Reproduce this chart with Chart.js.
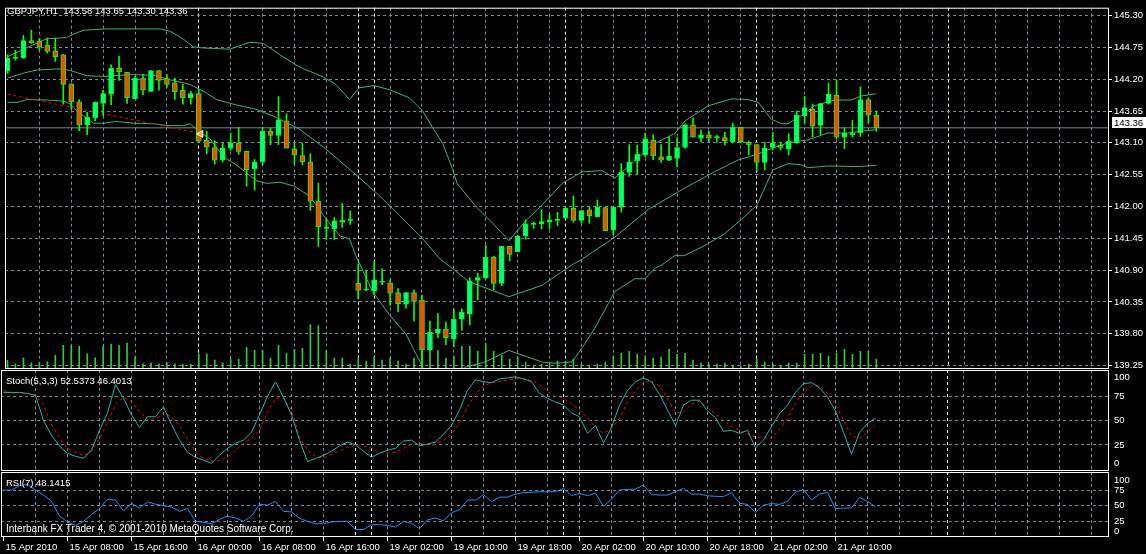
<!DOCTYPE html>
<html><head><meta charset="utf-8">
<script src="https://cdn.jsdelivr.net/npm/chart.js@4.4.1/dist/chart.umd.min.js"></script>
<style>
html,body{margin:0;padding:0;background:#000;overflow:hidden;}
#wrap{position:relative;width:1146px;height:554px;background:#000;}
#wrap canvas{position:absolute;left:0;top:0;}
.t{position:absolute;color:#fff;font:9.5px "Liberation Sans";white-space:pre;line-height:11px;}
#pbox{position:absolute;left:1112px;top:117px;width:34px;height:11px;background:#fff;color:#000;font:9.5px "Liberation Sans";line-height:11px;padding-left:2px;box-sizing:border-box;}
</style></head><body>
<div id="wrap">
<canvas id="cMain" width="1146" height="554"></canvas>
<canvas id="cSto" width="1146" height="554"></canvas>
<canvas id="cRsi" width="1146" height="554"></canvas>
<div class="t" style="left:7px;top:5px">GBPJPY,H1  143.58 143.65 143.30 143.36</div>
<div class="t" style="left:6px;top:375px">Stoch(5,3,3) 52.5373 46.4013</div>
<div class="t" style="left:6px;top:477px">RSI(7) 48.1415</div>
<div class="t" style="left:6px;top:523px;font-size:10px">Interbank FX Trader 4, © 2001-2010 MetaQuotes Software Corp.</div>
<div id="pbox">143.36</div>
</div>
<script>
// ---------- DATA ----------
const open = [
144.35,144.56,144.57,144.87,144.86,144.79,144.69,144.62,144.12,143.81,
143.41,143.53,143.78,143.94,144.39,144.32,143.86,144.22,143.99,144.35,
144.21,144.14,144.01,143.88,143.95,143.15,143.02,142.80,143.01,143.10,
142.96,142.65,142.77,143.30,143.23,143.48,142.99,142.88,142.77,142.09,
141.62,141.61,141.73,141.76,140.67,140.56,140.54,140.69,140.68,140.51,
140.31,140.51,140.38,139.52,139.82,139.88,139.71,140.05,140.14,140.72,
140.76,141.12,140.67,141.31,141.22,141.49,141.69,141.70,141.73,141.76,
141.80,141.97,141.76,141.94,141.82,141.98,141.59,141.99,142.59,142.79,
142.89,143.15,142.86,142.80,142.83,143.02,143.41,143.18,143.24,143.19,
143.19,143.12,143.37,143.11,143.07,142.76,143.02,143.06,142.99,143.10,
143.57,143.69,143.40,143.78,143.92,143.20,143.24,143.27,143.85,143.58];
const high = [
144.62,144.70,144.96,145.05,144.90,144.91,144.91,144.63,144.12,143.85,
143.63,143.81,144.01,144.45,144.60,144.32,144.25,144.28,144.35,144.35,
144.28,144.22,144.11,143.99,144.02,143.30,143.14,143.09,143.27,143.37,
142.96,142.81,143.37,143.36,143.90,143.60,143.09,143.09,142.91,142.40,
141.79,141.81,142.05,141.92,141.01,140.90,141.05,140.92,140.73,140.58,
140.51,140.56,140.47,140.02,140.15,140.00,140.22,140.23,140.77,140.85,
141.33,141.14,141.31,141.31,141.50,141.77,141.73,141.94,141.86,141.90,
141.98,142.18,141.93,141.99,142.11,141.99,142.00,142.74,143.07,143.06,
143.27,143.24,143.07,143.20,143.19,143.43,143.53,143.32,143.30,143.23,
143.28,143.44,143.37,143.13,143.07,143.11,143.28,143.11,143.26,143.65,
143.90,143.77,143.78,144.13,144.19,143.36,143.49,144.07,143.88,143.65];
const low = [
144.30,144.53,144.56,144.82,144.70,144.65,144.51,143.77,143.68,143.31,
143.24,143.48,143.57,143.76,144.18,143.78,143.86,143.93,143.99,144.01,
144.06,143.85,143.77,143.77,143.11,142.91,142.73,142.77,142.97,142.90,
142.35,142.28,142.72,143.07,143.07,143.01,142.73,142.72,141.93,141.31,
141.43,141.43,141.64,141.69,140.40,140.54,140.47,140.65,140.29,140.18,
140.24,140.02,139.22,139.51,139.73,139.61,139.57,139.86,139.95,140.39,
140.75,140.56,140.63,141.06,141.22,141.43,141.62,141.61,141.61,141.67,
141.79,141.73,141.71,141.71,141.82,141.58,141.51,141.90,142.52,142.56,
142.86,142.81,142.76,142.79,142.69,143.01,143.20,143.12,143.12,143.11,
143.06,143.10,143.10,142.89,142.61,142.63,142.98,142.98,142.89,143.09,
143.44,143.20,143.24,143.77,143.17,143.00,143.20,143.21,143.44,143.30];
const close = [
144.56,144.58,144.87,144.83,144.76,144.68,144.59,144.11,143.81,143.41,
143.54,143.80,143.95,144.39,144.33,143.88,144.22,144.01,144.35,144.18,
144.11,143.98,143.88,143.95,143.13,143.03,142.80,143.01,143.10,142.95,
142.63,142.77,143.30,143.23,143.50,143.01,142.89,142.77,142.09,141.65,
141.65,141.75,141.76,141.76,140.55,140.56,140.73,140.71,140.50,140.32,
140.51,140.36,139.52,139.83,139.88,139.73,140.05,140.17,140.71,140.77,
141.12,140.67,141.31,141.17,141.49,141.70,141.70,141.74,141.77,141.77,
141.97,141.76,141.93,141.84,141.99,141.58,141.99,142.59,142.77,142.90,
143.17,142.88,142.80,142.87,143.02,143.41,143.20,143.24,143.18,143.19,
143.14,143.37,143.12,143.07,142.76,143.01,143.09,143.02,143.13,143.58,
143.71,143.39,143.78,143.94,143.20,143.27,143.27,143.85,143.58,143.36];
const volume = [
360,212,452,252,252,292,560,960,960,920,
612,452,920,1012,960,1052,492,212,252,212,
252,212,188,188,612,612,360,252,400,400,
880,760,760,440,960,640,800,840,1800,1760,
760,440,440,200,440,320,520,360,440,320,
200,440,1120,760,760,440,520,920,920,720,
1040,720,560,400,480,280,120,200,200,320,
320,400,200,120,200,280,520,640,720,600,
520,440,480,800,600,640,360,240,200,200,
240,160,120,200,400,280,200,160,240,240,
600,600,640,520,640,800,600,720,720,400];
// Bollinger bands, read at the bar positions listed
const upperBars = [0,4.9,7.4,8.3,9.6,12.4,19.2,20.4,22,23.3,24.6,27.9,30.4,32.1,34.2,35.8,37,39.6,41.2,42.9,44.1,46,47.9,50.4,52.1,53.3,54.6,55.8,56.4,58.7,60.8,62.9,65,67.1,69.6,72.1,74.6,76.2,78.3,81.2,83.7,85,87.9,90.8,92.9,94.2,95.8,97.1,97.9,99.6,101.2,103.7,105.8,107.1,109];
const upperBand = [144.59,144.90,144.92,144.98,145.05,145.07,145.07,145.03,144.90,144.76,144.74,144.72,144.84,144.82,144.62,144.48,144.39,144.24,144.11,143.85,144.05,144.09,144.02,143.88,143.65,143.37,143.09,142.66,142.40,142.01,141.72,141.41,141.75,142.03,142.40,142.60,142.62,142.49,142.74,143.09,143.26,143.48,143.74,143.86,143.85,143.80,143.51,143.43,143.43,143.57,143.74,143.84,143.84,143.91,143.95];
const middleBars = [0,2.1,3.7,6.7,7.9,10,12.1,15.4,18.3,20.4,22.9,24.6,26.2,28.3,31.2,33.7,36.6,39.6,42.1,44.2,46.7,49.2,52.1,54.2,55.8,57.9,62.9,67.1,70.8,72.1,76.2,80.4,84.6,88.7,91.6,94.2,95.8,97.9,100.4,102.9,105.4,107.1,109];
const middleBand = [144.22,144.31,144.36,144.38,144.35,144.26,144.25,144.28,144.27,144.19,144.11,143.99,143.85,143.77,143.68,143.54,143.34,143.03,142.74,142.49,142.18,141.84,141.44,141.10,140.93,140.70,140.44,140.64,140.99,141.09,141.47,141.95,142.29,142.60,142.80,142.91,143.00,143.10,143.15,143.27,143.27,143.30,143.33];
const lowerBars = [0,1.2,2.5,5,7.1,7.9,8.7,10.8,12.1,13.7,15.8,18.3,20,22.1,22.9,24.2,25.4,27.1,28.7,31.2,32.5,34.2,36,37.9,40,41.7,42.9,43.7,45.8,47.9,50,52.1,54,56,57.4,59.9,62.9,67.1,68.7,70.8,72.1,73.7,76.2,78.7,80,81.2,82.1,83.7,84.9,87.4,89.9,92.1,94,95,96,97.9,99.6,100.4,102.9,106.7,109];
const lowerBand = [143.80,143.80,143.85,143.84,143.82,143.77,143.65,143.44,143.44,143.47,143.44,143.43,143.40,143.40,143.43,143.28,143.17,142.86,142.72,142.45,142.40,142.42,142.35,142.18,141.78,141.49,141.44,141.15,140.53,140.13,139.79,139.22,138.95,138.99,139.22,139.31,139.51,139.31,139.29,139.31,139.56,139.90,140.53,140.75,140.75,140.93,140.99,141.15,141.15,141.32,141.52,141.78,142.02,142.32,142.63,142.74,142.72,142.67,142.70,142.69,142.71];
const trendBars = [0, 24];
const trendPrices = [143.94, 143.27];
const lastPrice = 143.36;
const stochK = [
79,79,79,78,76,50,35,24,16.5,13.4,
11.3,19.6,40,58,87,73,56,43,54,54,
64,46,30,17.5,12.4,9.3,6.2,14.4,21.6,26.8,
30,38,56,75,90,74,56,30,8,11,
14.4,18.6,24,28,25,18.6,12.4,16.5,19.6,21.6,
29,30,24,26,28,36,45,61,81,92,
90,89,93,94,95,93,90,78,73,69,
66,58,54,37,45,27,43,66,81,90,
94,90,77,61,45,66,71,71,60,53,
39,40,37,40,22,30,44,57,66,79,
88,89,84,74,60,38,15.5,38,47,52.54];
const stochD = [
81,79,79,78,76,66,46,32,21.6,17.5,
14.4,18.6,32,48,67,74,70,59,51.5,51.5,
58,54,45,31,17.5,11.3,8.2,9.3,12.4,19.6,
26.8,32,40,59,73,73,61,33,19.6,13.4,
11.3,15.5,18.6,22.7,24.7,23.7,21.6,17.5,16.5,17.5,
21.6,25.8,26.8,25.8,25.8,30,36,48,64,77,
85.6,89,90,92,93,93,91,87,80,75,
73,67,61,52.6,43,37,42,52.6,69,81,
89,91,85.6,73,58,59,67,70,63,57,
50.5,44,40,36,33,33,32,41,52.6,68,
79,85.6,85.6,78,67,50.5,34,32,38,46.40];
const rsi = [
75,75,82,84,75,67,57,33.5,24,18.5,
25,36,45.5,60.5,59,41.6,53.5,46.5,56,52.4,
50,48,41,45.5,25,23.4,21.3,28,33.5,30.3,
25,33.5,52,51,57,41,40,30,25,21.3,
21.3,24,25,25,12,12,19.7,19.7,18.5,15.8,
25,21.8,13.2,27.4,30.3,25.8,38.7,43.5,59,59,
67.7,56.5,63.7,63.7,68.5,71,71.3,72.3,72.3,72.3,
77.7,66,69.7,66,70,49,60.5,75,75.8,76.6,
83,67.7,67,67,72.3,77.7,68.5,68.5,65.8,65,
64.5,70.6,54,52,39,50.8,53.5,52,57,71.8,
76,59,68.5,71.3,45.5,46,46.5,63.2,57,48.14];
const timeTickBars = [0,8,16,24,32,40,48,56,64,72,80,88,96,104];
const timeLabels = ['15 Apr 2010','15 Apr 08:00','15 Apr 16:00','16 Apr 00:00','16 Apr 08:00','16 Apr 16:00','19 Apr 02:00','19 Apr 10:00','19 Apr 18:00','20 Apr 02:00','20 Apr 10:00','20 Apr 18:00','21 Apr 02:00','21 Apr 10:00'];
const daySeparatorBars = [24,44,46,70,94,118];
const priceTicks = [139.25,139.80,140.35,140.90,141.45,142.00,142.55,143.10,143.65,144.20,144.75,145.30];
const oscTicks = [0,25,50,75,100];

// ---------- LAYOUT / STYLE ----------
const XMIN = -0.3125, XMAX = XMIN + 1108/8;
const FONT = {family:'Liberation Sans', size:9.5};
const GRID = '#778899';
const bars = open.map((_, i) => i);
const gridBars = []; for (let b = 4; b <= 136; b += 4) gridBars.push(b);

Chart.defaults.color = '#fff';
Chart.defaults.font.family = 'Liberation Sans';

const frame = {id:'frame', afterDraw(c){ const a=c.chartArea, x=c.ctx; x.save(); x.strokeStyle='#fff'; x.lineWidth=1; x.setLineDash([]);
  x.strokeRect(a.left+0.5,a.top+0.5,a.right-a.left-1,a.bottom-a.top-1); x.restore(); }};

function vAxis(positions, color, dash){
  return {type:'linear', position:'bottom', min:XMIN, max:XMAX, offset:false,
    afterBuildTicks: s => { s.ticks = positions.map(v => ({value:v})); },
    afterFit: s => { s.height = 0; },
    ticks:{display:false}, grid:{color, lineWidth:1, drawTicks:false, offset:false},
    border:{display:false, dash}};
}
function dataX(showLabels){
  const ax = {type:'linear', position:'bottom', min:XMIN, max:XMAX, offset:false, display: showLabels,
    afterBuildTicks: s => { s.ticks = timeTickBars.map(v => ({value:v})); },
    ticks:{autoSkip:false, maxRotation:0, align:'start', labelOffset:2, padding:1, color:'#fff', font:FONT,
      callback: v => timeLabels[timeTickBars.indexOf(v)]},
    grid:{drawOnChartArea:false, drawTicks:true, tickLength:4, tickColor:'#fff', offset:false},
    border:{display:false}};
  if (showLabels) ax.afterFit = s => { s.height = 17; };
  return ax;
}
function yAxis(min, max, ticks, labelFn, hideEnds, drawTicks){
  return {type:'linear', position:'right', min, max,
    afterBuildTicks: s => { s.ticks = ticks.map(v => ({value:v})); },
    afterFit: s => { s.width = 37; },
    ticks:{autoSkip:false, color:'#fff', font:FONT, padding: drawTicks ? 2 : 5, callback: labelFn},
    grid:{color: c => (hideEnds && c.tick && (c.tick.value === 0 || c.tick.value === 100)) ? 'rgba(0,0,0,0)' : GRID,
      lineWidth:1, drawTicks, tickLength:3, tickColor:'#fff'},
    border:{display:false, dash:[3,3]}};
}
const baseOpts = (padTop, padBottom) => ({
  responsive:false, animation:false, events:[],
  layout:{padding:{left:1, top:padTop, right:0, bottom:padBottom}},
  plugins:{legend:{display:false}, tooltip:{enabled:false}}
});

// ---------- MAIN PRICE CHART ----------
const line = (xs, ys) => xs.map((x, i) => ({x, y: ys[i]}));
const mainOpts = baseOpts(2, 185);
mainOpts.scales = {
  xg: vAxis(gridBars, GRID, [3,3]),
  xd: vAxis(daySeparatorBars, '#fff', [3,3]),
  x: dataX(false),
  y: yAxis(139.19, 145.437, priceTicks, v => v.toFixed(2), false, true),
  yv: {type:'linear', display:false, min:0, max:367*40}
};
new Chart(document.getElementById('cMain'), {
  type:'line',
  data:{datasets:[
    {type:'bar', label:'Volume', yAxisID:'yv', data: bars.map(i => ({x:i, y:volume[i]})),
      backgroundColor:'#32c83c', barThickness:1, grouped:false, order:7},
    {label:'BB upper', data: line(upperBars, upperBand), borderColor:'#3cb371', borderWidth:1, pointRadius:0, tension:0, order:5},
    {label:'BB middle', data: line(middleBars, middleBand), borderColor:'#3cb371', borderWidth:1, pointRadius:0, tension:0, order:5},
    {label:'BB lower', data: line(lowerBars, lowerBand), borderColor:'#3cb371', borderWidth:1, pointRadius:0, tension:0, order:5},
    {label:'Last', data:[{x:XMIN, y:lastPrice},{x:XMAX, y:lastPrice}], borderColor:GRID, borderWidth:1, pointRadius:0, order:6},
    {label:'Trend', data: line(trendBars, trendPrices), borderColor:'#ff0000', borderWidth:1, borderDash:[3,3], pointRadius:0, order:4},
    {type:'bar', label:'Wick', data: bars.map(i => ({x:i, y:[low[i], high[i]]})),
      backgroundColor:'#00ff00', barThickness:1, grouped:false, order:3},
    {type:'bar', label:'Body', data: bars.map(i => ({x:i, y:[open[i], close[i]]})),
      backgroundColor: bars.map(i => close[i] >= open[i] ? '#00ff7f' : '#ff4500'),
      borderColor:'#00ff00', borderWidth:1, borderSkipped:false, barThickness:5, minBarLength:1, grouped:false, order:2},
    {label:'Arrow', data:[{x:24.25, y:143.255}], showLine:false, pointStyle:'triangle', rotation:-90, pointRadius:4,
      pointBackgroundColor:'#ffa500', pointBorderColor:'#fff', pointBorderWidth:1, order:1}
  ]},
  options: mainOpts,
  plugins:[frame]
});

// ---------- STOCHASTIC ----------
const stoOpts = baseOpts(370, 83);
stoOpts.scales = {
  xg: vAxis(gridBars, GRID, [3,3]),
  xd: vAxis(daySeparatorBars, '#fff', [3,3]),
  x: dataX(false),
  y: yAxis(-1.75, 102.06, oscTicks, v => v === 100 ? ['', '100'] : v === 0 ? ['0', ''] : String(v), true, false)
};
new Chart(document.getElementById('cSto'), {
  type:'line',
  data:{datasets:[
    {label:'%K', data: bars.map(i => ({x:i, y:stochK[i]})), borderColor:'#20b2aa', borderWidth:1, pointRadius:0, tension:0, order:1},
    {label:'%D', data: bars.map(i => ({x:i, y:stochD[i]})), borderColor:'#ff0000', borderWidth:1, borderDash:[3,3], pointRadius:0, tension:0, order:2}
  ]},
  options: stoOpts,
  plugins:[frame]
});

// ---------- RSI ----------
const rsiOpts = baseOpts(472, 0);
rsiOpts.scales = {
  xg: vAxis(gridBars, GRID, [3,3]),
  xd: vAxis(daySeparatorBars, '#fff', [3,3]),
  x: dataX(true),
  y: yAxis(0, 103.8, oscTicks, v => v === 100 ? ['', '100'] : v === 0 ? ['0', ''] : String(v), true, false)
};
new Chart(document.getElementById('cRsi'), {
  type:'line',
  data:{datasets:[
    {label:'RSI', data: bars.map(i => ({x:i, y:rsi[i]})), borderColor:'#1e90ff', borderWidth:1, pointRadius:0, tension:0}
  ]},
  options: rsiOpts,
  plugins:[frame]
});
</script>
</body></html>
